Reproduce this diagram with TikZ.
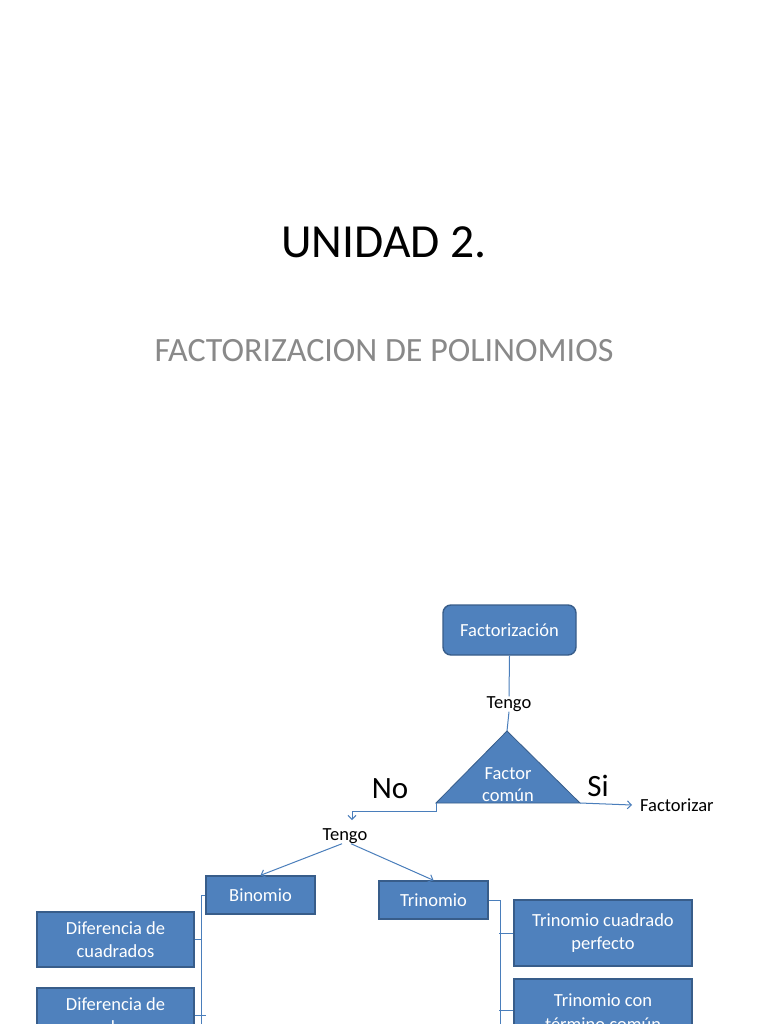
\documentclass[tikz,border=0pt]{standalone}
\usepackage{fontspec}
\setmainfont{Carlito}
\usetikzlibrary{arrows.meta}
\definecolor{boxfill}{HTML}{4F81BD}
\definecolor{boxline}{HTML}{385D8A}
\definecolor{connc}{HTML}{4A7EBB}
\definecolor{subgray}{HTML}{898989}
\begin{document}
\begin{tikzpicture}[x=1pt,y=-1pt,
 box/.style={draw=boxline, line width=1.4pt, fill=boxfill, text=white, font=\fontsize{18.5}{23.5}\selectfont, align=center, inner sep=0pt},
 conn/.style={draw=connc, line width=1pt},
 arr/.style={conn, -{Straight Barb[length=4pt,width=8pt]}},
 lbl/.style={font=\fontsize{18.5}{20}\selectfont, inner sep=0pt},
 big/.style={font=\fontsize{31}{34}\selectfont, inner sep=0pt}]
\path[use as bounding box, fill=white] (0,0) rectangle (768,1024);
\clip (0,0) rectangle (768,1024);
\node[font=\fontsize{47.5}{50}\selectfont, inner sep=0pt] (title) at (384,242) {UNIDAD 2.};
\node[font=\fontsize{34}{36}\selectfont, text=subgray, inner sep=0pt] (sub) at (384,351) {FACTORIZACION DE POLINOMIOS};

\node[box, rounded corners=8pt, minimum width=133pt, minimum height=50pt] (fact) at (509.5,630) {Factorización};
\node[lbl] (tengo1) at (509,704) {Tengo};

% triangle
\coordinate (apex) at (507,731);
\coordinate (tr) at (580,803);
\coordinate (tl) at (436,803);
\path[fill=boxfill, draw=boxline, line width=0.8pt] (apex) -- (tr) -- (tl) -- cycle;
\node[text=white, font=\fontsize{18.5}{22}\selectfont, align=center, inner sep=0pt] (fc) at (508,785) {Factor\\común};

\node[big] (si) at (598,786) {Si};
\node[big] (no) at (390,789) {No};
\node[lbl, anchor=west] (factz) at (640,805) {Factorizar};
\node[lbl] (tengo2) at (345,836) {Tengo};

\node[box, minimum width=109pt, minimum height=38pt] (bin) at (260.5,895) {Binomio};
\node[box, minimum width=109pt, minimum height=38pt] (tri) at (433.5,900) {Trinomio};
\node[box, minimum width=157pt, minimum height=55pt] (dcuad) at (115.5,939.5) {Diferencia de\\cuadrados};
\node[box, minimum width=157pt, minimum height=55pt] (dcub) at (115.5,1015.5) {Diferencia de\\cubos};
\node[box, minimum width=178pt, minimum height=66pt] (tcp) at (603,933) {Trinomio cuadrado\\perfecto};
\node[box, minimum width=178pt, minimum height=66pt] (ttc) at (603,1012) {Trinomio con\\término común};

% connectors
\draw[conn] (fact.south) -- (tengo1.north);
\draw[conn] (tengo1.south) -- (apex);
\draw[arr] (tr) -- ([xshift=-8pt]factz.west);
\coordinate (nostep) at (436,811);
\coordinate (noend) at (352,820);
\draw[arr] (tl) -- (nostep) -| (noend);
\draw[arr] ([xshift=-3pt]tengo2.south) -- (bin.north);
\draw[arr] ([xshift=6pt]tengo2.south) -- (tri.north);

\coordinate (binbot) at (201,1040);
\draw[conn] (bin.west) -| (binbot);
\draw[conn] (dcuad.east) -- ++(7,0);
\draw[conn] (dcub.east) -- ++(11,0);
\coordinate (tribot) at (500,1040);
\draw[conn] (tri.east) -| (tribot);
\draw[conn] (tcp.west) -- ++(-14,0);
\draw[conn] ([yshift=2pt]ttc.west) -- ++(-14,0);
\end{tikzpicture}
\end{document}
